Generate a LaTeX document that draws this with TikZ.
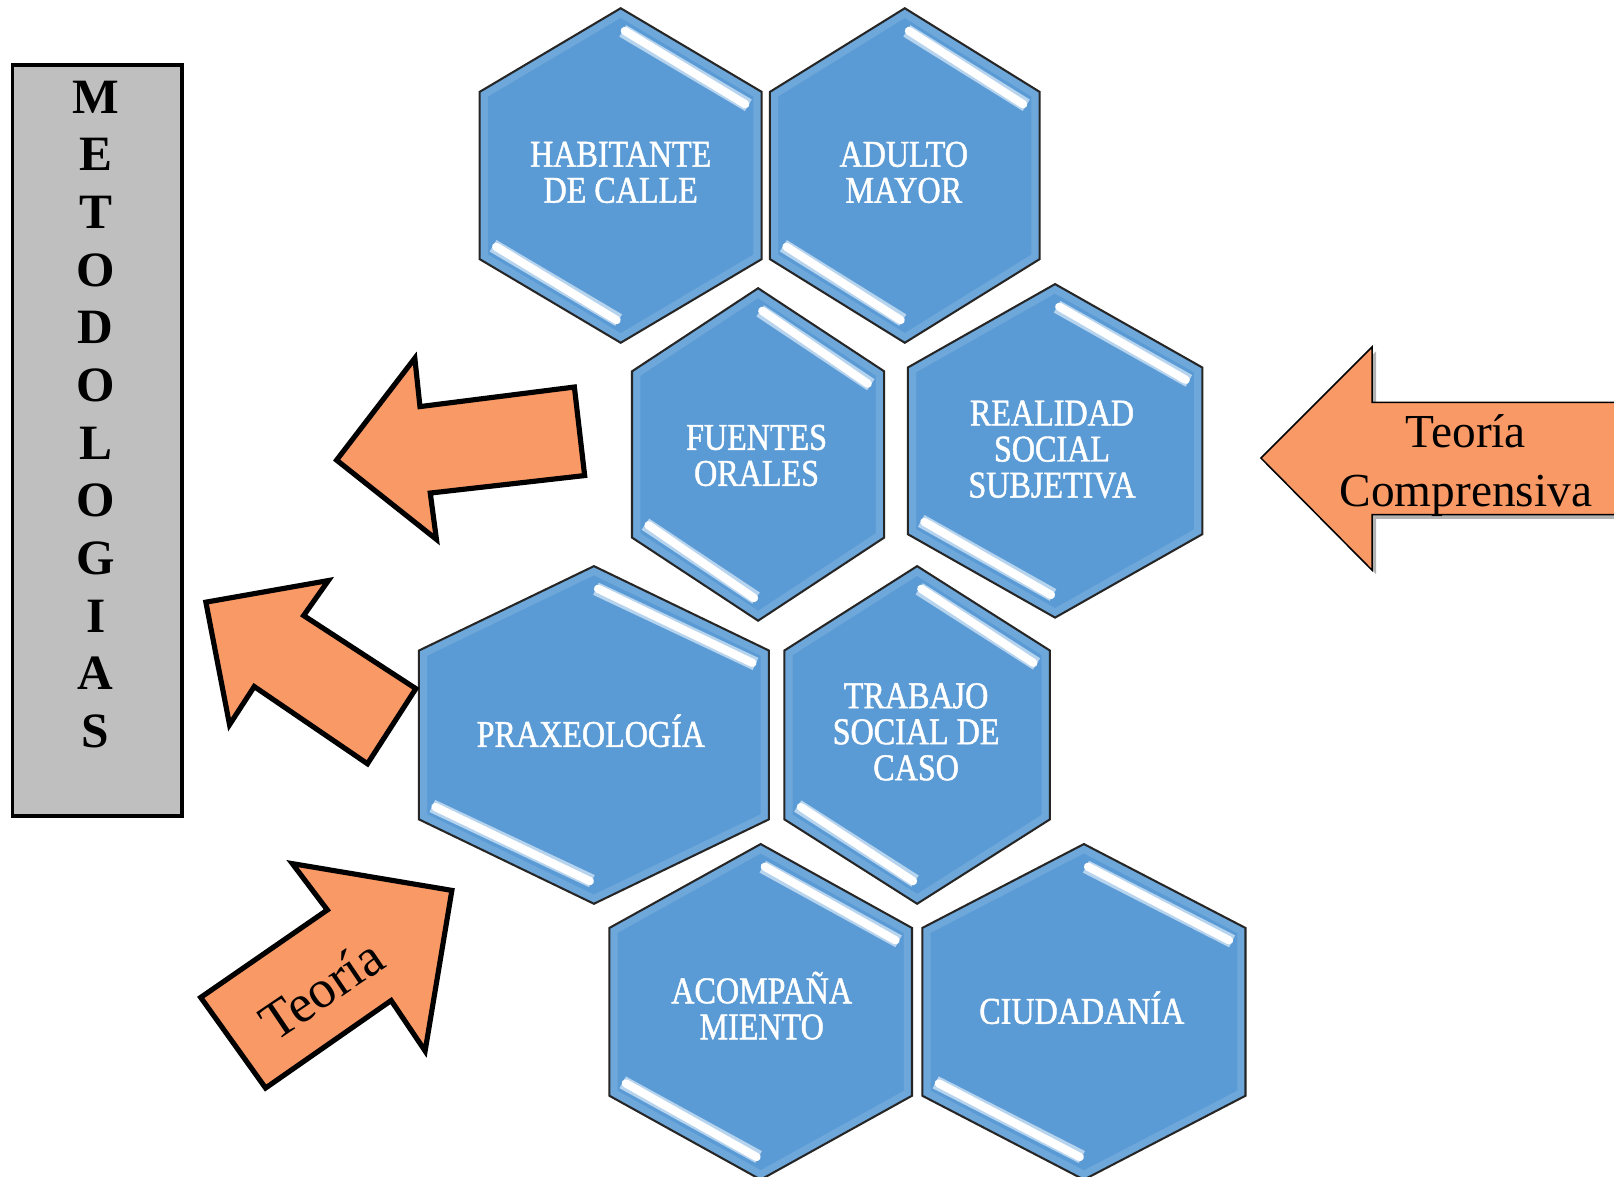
\documentclass[tikz,border=0pt]{standalone}
\usepackage{fontspec}
\setmainfont{Liberation Serif}
\newfontfamily\hexfont[FakeStretch=0.85,FakeBold=1.2]{Liberation Serif}
\definecolor{hexblue}{HTML}{5B9BD5}
\definecolor{arroworange}{HTML}{F99966}
\definecolor{boxgray}{HTML}{BFBFBF}
\definecolor{streakedge}{HTML}{B7D4EF}
\tikzset{
  hexfill/.style={fill=hexblue},
  hexline/.style={draw=black!85, line width=2pt, line join=miter},
  bevel/.style={draw=white, opacity=0.12, line width=16pt},
  streakout/.style={draw=streakedge, line width=13pt},
  streakin/.style={draw=white, line width=8pt, line cap=round},
  hextext/.style={text=white, align=center, font=\hexfont\fontsize{36.7}{35}\selectfont, inner sep=0pt},
  bigarrow/.style={fill=arroworange, draw=black, line width=5pt, line join=miter},
  thinarrow/.style={fill=arroworange, draw=black, line width=1.5pt, line join=miter},
  vletter/.style={font=\bfseries\fontsize{48}{48}\selectfont, anchor=base, inner sep=0pt},
}
\newcommand{\hexshape}[4]{({#1},{#2-#4}) -- ({#1+#3},{#2-#4/2}) -- ({#1+#3},{#2+#4/2}) -- ({#1},{#2+#4}) -- ({#1-#3},{#2+#4/2}) -- ({#1-#3},{#2-#4/2}) -- cycle}
\newcommand{\hexcell}[4]{%
  \path[hexfill] \hexshape{#1}{#2}{#3}{#4};
  \begin{scope}
    \clip \hexshape{#1}{#2}{#3}{#4};
    \draw[bevel] \hexshape{#1}{#2}{#3}{#4};
  \end{scope}
  \draw[streakout] ({#1+2},{#2-#4+22}) -- ({#1+#3-13},{#2-#4/2+13});
  \draw[streakin] ({#1+4},{#2-#4+22}) -- ({#1+#3-16},{#2-#4/2+12});
  \draw[streakout] ({#1-2},{#2+#4-22}) -- ({#1-#3+13},{#2+#4/2-13});
  \draw[streakin] ({#1-4},{#2+#4-22}) -- ({#1-#3+16},{#2+#4/2-12});
  \draw[hexline] \hexshape{#1}{#2}{#3}{#4};
}
\begin{document}
\begin{tikzpicture}[x=1pt,y=-1pt]
\useasboundingbox (0,0) rectangle (1568,1143);
\fill[white] (0,0) rectangle (1568,1143);

% left box
\draw[fill=boxgray, line width=3.5pt] (12,63) rectangle (177,793);
\foreach \L [count=\i from 0] in {M,E,T,O,D,O,L,O,G,I,A,S}
  \node[vletter] (m\i) at (93,{110+56*\i}) {\L};

% hexagons
\hexcell{603}{170.5}{137}{162.5}
\hexcell{879}{170.5}{131}{162.5}
\hexcell{736.5}{441.5}{122.5}{161.5}
\hexcell{1025}{438}{143}{162}
\hexcell{577}{714}{170}{164}
\hexcell{891}{714}{129}{164}
\hexcell{739}{983}{147}{163}
\hexcell{1053}{983}{157}{163}

\node[hextext] (h1) at (603,167.5) {HABITANTE\\DE CALLE};
\node[hextext] (h2) at (878,167.5) {ADULTO\\MAYOR};
\node[hextext] (h3) at (735,442.5) {FUENTES\\ORALES};
\node[hextext] (h4) at (1022,436.5) {REALIDAD\\SOCIAL\\SUBJETIVA};
\node[hextext] (h5) at (574,710) {PRAXEOLOGÍA};
\node[hextext] (h6) at (890,711) {TRABAJO\\SOCIAL DE\\CASO};
\node[hextext] (h7) at (740,977) {ACOMPAÑA\\MIENTO};
\node[hextext] (h8) at (1051,979) {CIUDADANÍA};

% left arrows
\draw[bigarrow] (327,447) -- (403,348) -- (408,395) -- (558,376) -- (568,462) -- (418,479) -- (424,524) -- cycle;
\draw[bigarrow] (200,585) -- (319,564) -- (295,598) -- (404,669) -- (357,742) -- (247,667) -- (223,704) -- cycle;
\draw[bigarrow] (439,865) -- (284,839) -- (318,884) -- (195,969) -- (258,1057) -- (380,972) -- (413,1021) -- cycle;
\node[rotate=34, font=\fontsize{52}{52}\selectfont, inner sep=0pt] (teo) at (312,961) {Teoría};

% right arrow
\fill[black, opacity=0.3] (1229,449) -- (1337,341) -- (1337,395) -- (1600,395) -- (1600,504) -- (1337,504) -- (1337,558) -- cycle;
\draw[thinarrow] (1225,445) -- (1333,337) -- (1333,391) -- (1600,391) -- (1600,500) -- (1333,500) -- (1333,554) -- cycle;
\node[align=center, font=\fontsize{46}{57}\selectfont, inner sep=0pt] (tc) at (1424,452) {Teoría\\Comprensiva};
\end{tikzpicture}
\end{document}
